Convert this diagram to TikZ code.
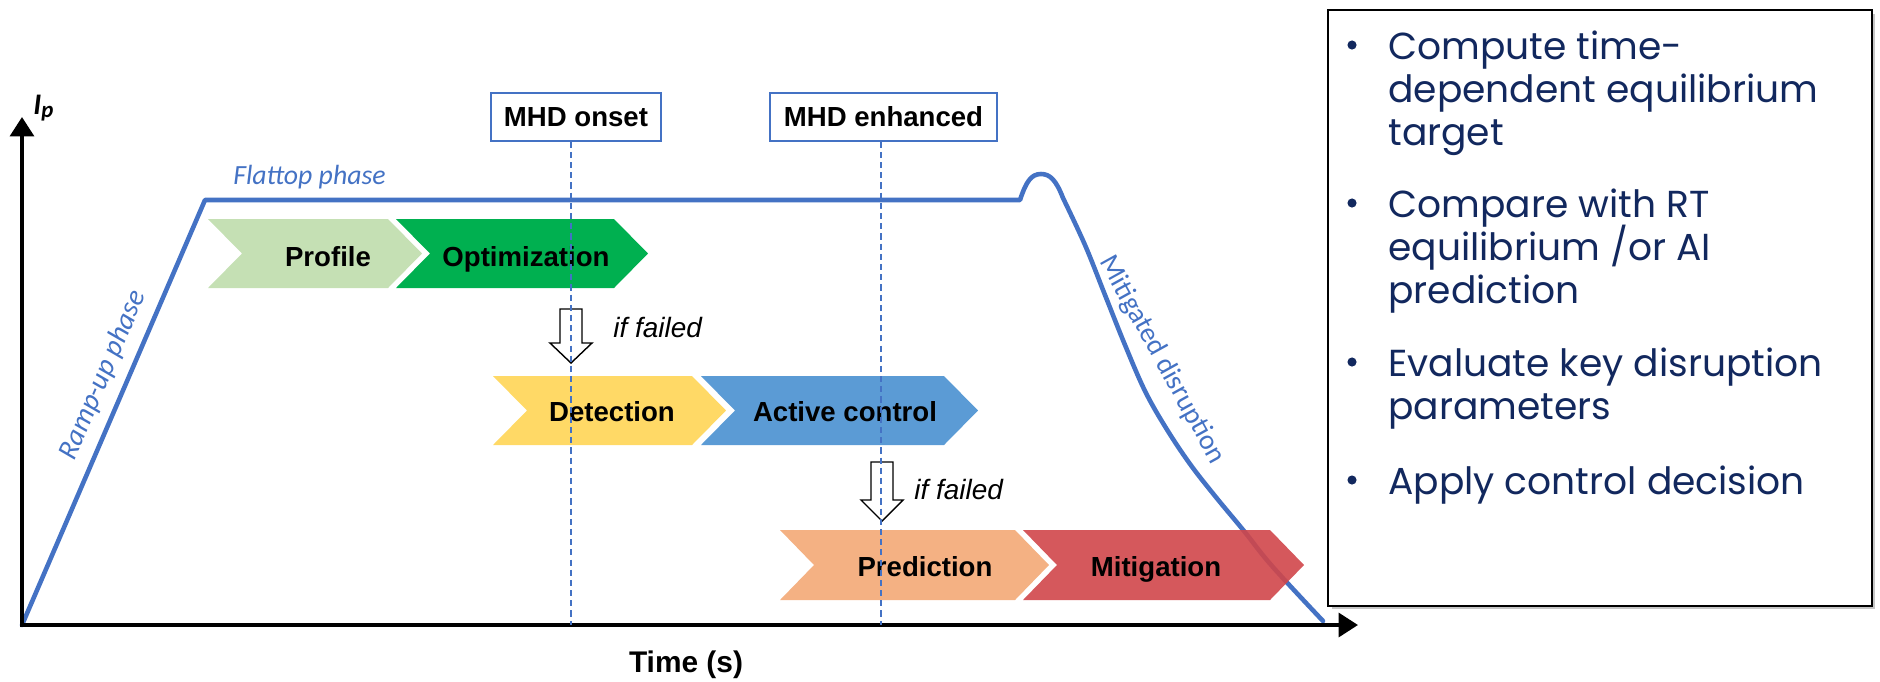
\documentclass[tikz,border=0pt]{standalone}
\usepackage{fontspec}
\setmainfont{Liberation Sans}
\newfontfamily\calfont{Carlito}
\newfontfamily\gothfont{Poppins}
\usetikzlibrary{arrows.meta,shadows,calc}
\definecolor{curveblue}{HTML}{4472C4}
\definecolor{profgreen}{HTML}{C5E0B4}
\definecolor{optgreen}{HTML}{00B050}
\definecolor{detyellow}{HTML}{FFD966}
\definecolor{actblue}{HTML}{5B9BD5}
\definecolor{predorange}{HTML}{F4B183}
\definecolor{mitred}{HTML}{D0464A}
\definecolor{navy}{HTML}{12285E}
\newcommand\chevshape[5]{\fill[#5] (#1,#3) -- (#2,#3) -- ({#2+34},{(#3+#4)/2}) -- (#2,#4) -- (#1,#4) -- ({#1+34},{(#3+#4)/2}) -- cycle;}
\newcommand\hollowdown[4]{% x center, top, shaft bottom, tip
  \filldraw[fill=white, draw=black, line width=0.8pt, line join=miter]
   ({#1-11},#2) -- ({#1+11},#2) -- ({#1+11},#3) -- ({#1+21},#3) -- (#1,#4) -- ({#1-21},#3) -- ({#1-11},#3) -- cycle;}
\begin{document}
\begin{tikzpicture}[x=0.02cm,y=-0.02cm,
  lbl/.style={font=\fontsize{15.7}{18}\selectfont\bfseries, inner sep=0pt, anchor=base},
  note/.style={font=\fontsize{15.9}{18}\selectfont\itshape, inner sep=0pt, anchor=base west},
  phase/.style={font=\calfont\itshape\fontsize{15.8}{18}\selectfont, text=curveblue, inner sep=0pt},
  axisline/.style={line width=2.2pt, -{Triangle[length=11pt,width=13.5pt]}},
  curveline/.style={line width=2.6pt, draw=curveblue, line join=round, line cap=round},
  mhdbox/.style={draw=curveblue, line width=0.8pt, fill=white, inner sep=0pt, minimum height=0.96cm, font=\fontsize{15.7}{18}\selectfont\bfseries},
  dashln/.style={draw=curveblue, line width=0.8pt, dash pattern=on 3.5pt off 2.3pt},
  bul/.style={font=\gothfont\fontsize{21.4}{24}\selectfont, text=navy, inner sep=0pt, anchor=base west}]
\useasboundingbox (0,0) rectangle (1880,681);

% plasma current curve
\draw[curveline] (22,625) -- (205,200) -- (1020,200)
  .. controls (1026,182) and (1031,174) .. (1041,174)
  .. controls (1050,174) and (1056,180) .. (1063,198)
  -- plot[smooth, tension=0.6] coordinates {(1063,198) (1085,245) (1105,295) (1125,345) (1145,391) (1166,428) (1190,464) (1215,496) (1244,531) (1272,566) (1323,621)};

% chevrons
\chevshape{208}{388}{219}{288}{profgreen}
\chevshape{396}{614}{219}{288}{optgreen}
\chevshape{493}{692}{376}{445}{detyellow}
\chevshape{701}{944}{376}{445}{actblue}
\chevshape{780}{1015}{530}{600}{predorange}
\chevshape{1023}{1270}{530}{600}{mitred, fill opacity=0.9}

\node[lbl] (profile) at (328,266) {Profile};
\node[lbl] (optim) at (526,266) {Optimization};
\node[lbl] (detect) at (612,421) {Detection};
\node[lbl] (active) at (845,421) {Active control};
\node[lbl] (predict) at (925,576) {Prediction};
\node[lbl] (mitig) at (1156,576) {Mitigation};

% if failed arrows
\hollowdown{571}{309}{343}{363}
\hollowdown{882}{462}{500}{521}
\node[note] (fail1) at (613,337) {if failed};
\node[note] (fail2) at (914,499) {if failed};

% axes
\coordinate (origin) at (22,625);
\coordinate (ytop) at (22,117);
\coordinate (xend) at (1358,625);
\draw[axisline] ($(origin)+(0,2)$) -- (ytop);
\draw[axisline] ($(origin)+(-1,0)$) -- (xend);

% MHD markers
\node[mhdbox, minimum width=3.4cm] (onsetbox) at (576,117) {MHD onset};
\node[mhdbox, minimum width=4.54cm] (enhbox) at (883.5,117) {MHD enhanced};
\coordinate (onsetfoot) at (571,625);
\coordinate (enhfoot) at (881,625);
\draw[dashln] (onsetbox.south -| onsetfoot) -- (onsetfoot);
\draw[dashln] (enhbox.south -| enhfoot) -- (enhfoot);

% labels
\node[inner sep=0pt, anchor=base west, font=\calfont\bfseries\itshape\fontsize{17}{18}\selectfont] (ip) at (33,114) {I\raisebox{-1.8pt}{\fontsize{13}{14}\selectfont p}};
\node[inner sep=0pt, anchor=base, font=\fontsize{17}{20}\selectfont\bfseries] (timelbl) at (686,672) {Time (s)};
\node[phase, anchor=base west] (flat) at (233,184) {Flattop phase};
\node[phase, font=\calfont\itshape\fontsize{16.3}{18}\selectfont, rotate=66.8] (ramp) at (103,375) {Ramp-up phase};
\node[phase, font=\calfont\fontsize{16}{18}\selectfont, rotate=-61] (mitdis) at (1162,360) {Mitigated disruption};

% right panel
\node[draw=black, line width=1pt, fill=white, minimum width=10.88cm, minimum height=11.92cm, inner sep=0pt,
  drop shadow={shadow xshift=2pt, shadow yshift=-2pt, opacity=0.45}] (panel) at (1600,308) {};
\foreach \yy in {45,203,362,480} {\fill[navy] (1352,\yy) circle (2.6pt);}
\node[bul] (b1a) at (1388,59) {Compute time-};
\node[bul] (b1b) at (1388,102) {dependent equilibrium};
\node[bul] (b1c) at (1388,145) {target};
\node[bul] (b2a) at (1388,217) {Compare with RT};
\node[bul] (b2b) at (1388,260) {equilibrium /or AI};
\node[bul] (b2c) at (1388,303) {prediction};
\node[bul] (b3a) at (1388,376) {Evaluate key disruption};
\node[bul] (b3b) at (1388,419) {parameters};
\node[bul] (b4a) at (1388,494) {Apply control decision};
\end{tikzpicture}
\end{document}
